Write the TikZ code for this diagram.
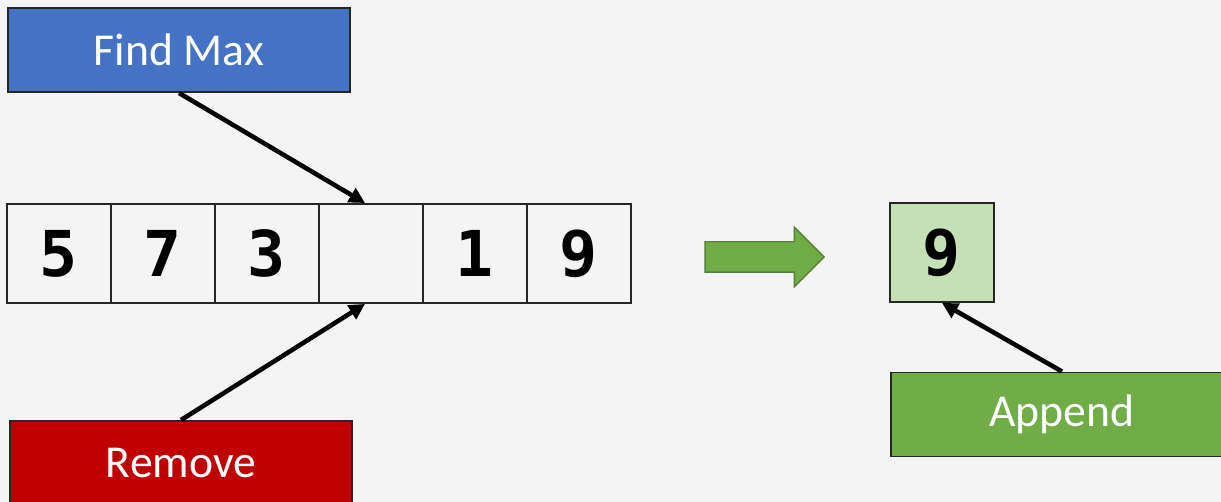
\documentclass[tikz,border=0pt]{standalone}
\usepackage{fontspec}
\setmainfont{Carlito}
\newfontfamily\digitfont{DejaVu Sans Mono}
\usepackage{xcolor}
\usetikzlibrary{arrows.meta,positioning,shapes.arrows}

\definecolor{bgcol}{HTML}{F4F4F4}
\definecolor{maxblue}{HTML}{4472C4}
\definecolor{remred}{HTML}{C00000}
\definecolor{appgreen}{HTML}{70AD47}
\definecolor{appdark}{HTML}{548235}
\definecolor{cellgreen}{HTML}{C5E0B4}

\begin{document}
\begin{tikzpicture}[
  x=0.02cm, y=-0.02cm,
  opbox/.style={rectangle, draw=black!85, line width=1.1pt, text=white,
                minimum width=6.84cm, minimum height=1.68cm, inner sep=0pt,
                font=\fontsize{26}{30}\selectfont},
  cell/.style={rectangle, draw=black!85, line width=1.1pt, inner sep=0pt,
               minimum width=2.08cm, minimum height=1.98cm,
               font=\digitfont\bfseries\fontsize{36}{40}\selectfont},
  arrow/.style={-{Triangle[length=9pt, width=9pt]}, line width=2.6pt, draw=black}
]
\clip (0,0) rectangle (1221,502);
\fill[bgcol] (0,0) rectangle (1221,502);

% the list
\foreach \v [count=\i] in {5,7,3,{},1,9}
  \node[cell] (c\i) at ({104*\i-45}, 253.5) {\v};

% operations
\node[opbox, fill=maxblue] (findmax) at (179, 50) {Find Max};
\node[opbox, fill=remred] (remove) at (181, 463) {Remove};

\node[single arrow, draw=appdark, fill=appgreen, line width=0.8pt,
      minimum height=2.38cm, inner sep=0pt, inner ysep=0.29cm,
      single arrow head extend=0.29cm] (move) at (757, 257) {};

\node[cell, fill=cellgreen] (nine) at (942, 252.5) {9};
\node[opbox, fill=appgreen] (append) at (1062, 414.5) {Append};

\draw[arrow] (findmax.south) -- ([xshift=-0.12cm]c4.north);
\draw[arrow] (remove.north) -- ([xshift=-0.12cm]c4.south);
\draw[arrow] (append.north) -- (nine.south);
\end{tikzpicture}
\end{document}
